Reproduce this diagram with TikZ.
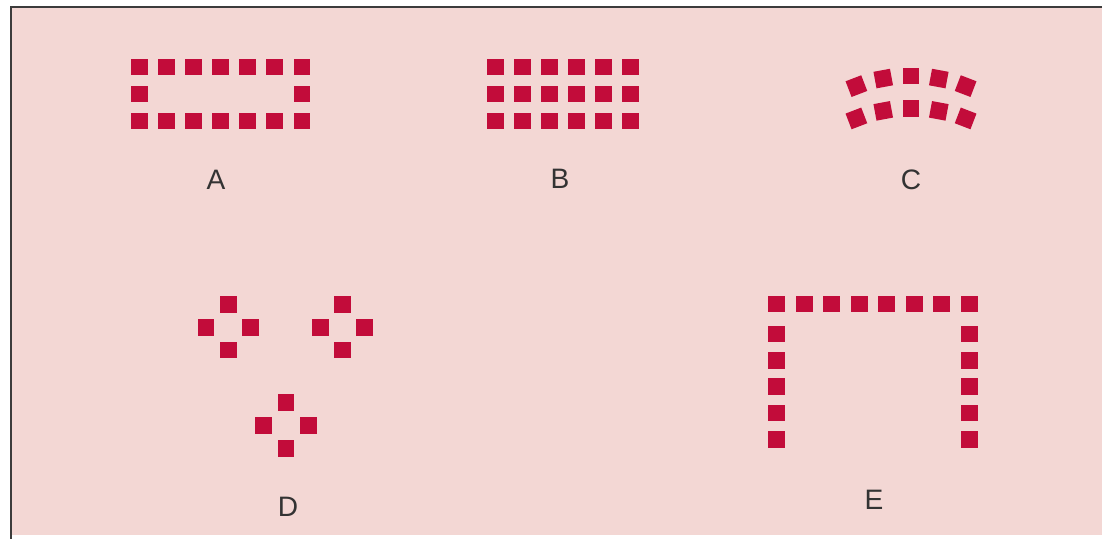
\documentclass[tikz,border=0pt]{standalone}
\usepackage{fontspec}
\setmainfont{Liberation Sans}
\usetikzlibrary{positioning}
\definecolor{seatred}{RGB}{194,12,58}
\definecolor{roompink}{RGB}{243,215,212}
\definecolor{framegray}{RGB}{60,60,60}

\begin{document}
\begin{tikzpicture}[
      x=0.025cm,y=-0.025cm,
      seat/.style={fill=seatred, minimum size=0.42cm, inner sep=0pt, outer sep=0pt},
      tag/.style={font=\fontsize{20}{24}\selectfont, text=black!80, inner sep=0pt}
    ]
      \useasboundingbox (0,0) rectangle (1109,539);
      \fill[roompink] (11,7) rectangle (1102,535);
      \draw[framegray, line width=0.055cm] (1102,7) -- (11,7) -- (11,539);
      % A: hollow rectangle
      \foreach \i in {0,...,6} {
        \node[seat] (a-top-\i) at (139.3+27.1*\i,67) {};
        \node[seat] (a-bot-\i) at (139.3+27.1*\i,121) {};
      }
      \node[seat] (a-mid-0) at (139.3,94) {};
      \node[seat] (a-mid-6) at (302,94) {};
      \node[tag] (lblA) at (216,180) {A};
      % B: full block
      \foreach \i in {0,...,5}
        \foreach \j in {0,1,2}
          \node[seat] (b-\i-\j) at (495.7+26.9*\i,67+27*\j) {};
      \node[tag] (lblB) at (560,179) {B};
      % C: two curved rows
      \foreach \a/\r [count=\k] in {-21/21,-10.5/10.5,0/0,10.5/-10.5,21/-21} {
        \node[seat, rotate=\r] (c-top-\k) at ({911+152.4*sin(\a)},{228.4-152.4*cos(\a)}) {};
        \node[seat, rotate=\r] (c-bot-\k) at ({911+152.4*sin(\a)},{260.7-152.4*cos(\a)}) {};
      }
      \node[tag] (lblC) at (911,180) {C};
      % D: three small clusters
      \foreach \cx/\cy/\n in {228.3/327.3/1,342.5/327.3/2,286/425.7/3} {
        \node[seat] (d\n-n) at (\cx,\cy-23) {};
        \node[seat] (d\n-s) at (\cx,\cy+22.7) {};
        \node[seat] (d\n-w) at (\cx-22.3,\cy) {};
        \node[seat] (d\n-e) at (\cx+22.3,\cy) {};
      }
      \node[tag] (lblD) at (288,506.7) {D};
      % E: U shape
      \foreach \i in {0,...,7}
        \node[seat] (e-top-\i) at (776.7+27.5*\i,304) {};
      \foreach \j in {0,...,4} {
        \node[seat] (e-left-\j) at (776.7,334+26.3*\j) {};
        \node[seat] (e-right-\j) at (969.2,334+26.3*\j) {};
      }
      \node[tag] (lblE) at (874,500) {E};
    \end{tikzpicture}
\end{document}
